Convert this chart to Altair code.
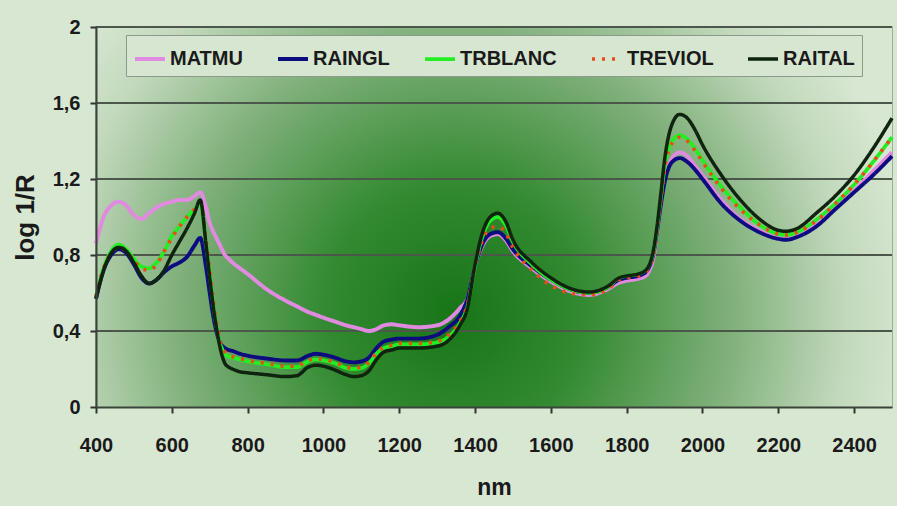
import altair as alt
import pandas as pd

# ---------------- data ----------------
nm = [400, 420, 440, 460, 480, 500, 520, 540, 560, 580, 600, 620, 640, 660, 675,
      690, 700, 710, 720, 730, 740, 750, 760, 780, 800, 850, 900, 930, 960, 980,
      1000, 1030, 1060, 1080, 1100, 1120, 1140, 1160, 1180, 1200, 1250, 1300, 1330,
      1360, 1380, 1400, 1420, 1440, 1460, 1480, 1500, 1550, 1600, 1650, 1700, 1750,
      1780, 1800, 1830, 1850, 1860, 1870, 1880, 1890, 1900, 1920, 1940, 1960, 1980,
      2000, 2050, 2100, 2150, 2200, 2220, 2250, 2300, 2350, 2400, 2450, 2500]

matmu = [0.86, 1.00, 1.06, 1.08, 1.06, 1.01, 0.99, 1.02, 1.05, 1.07, 1.08, 1.09, 1.09, 1.11, 1.13,
         1.05, 0.97, 0.92, 0.88, 0.84, 0.80, 0.78, 0.76, 0.73, 0.70, 0.62, 0.56, 0.53, 0.50, 0.485,
         0.47, 0.45, 0.43, 0.42, 0.41, 0.40, 0.41, 0.43, 0.435, 0.43, 0.42, 0.43, 0.46,
         0.52, 0.57, 0.74, 0.85, 0.90, 0.91, 0.88, 0.82, 0.73, 0.66, 0.61, 0.59, 0.62,
         0.655, 0.665, 0.675, 0.69, 0.72, 0.78, 0.91, 1.06, 1.19, 1.31, 1.34, 1.32, 1.27,
         1.22, 1.09, 0.99, 0.93, 0.89, 0.885, 0.90, 0.96, 1.05, 1.14, 1.24, 1.34]

raingl = [0.57, 0.72, 0.80, 0.83, 0.81, 0.75, 0.68, 0.65, 0.67, 0.71, 0.74, 0.76, 0.79, 0.85, 0.89,
          0.74, 0.60, 0.47, 0.38, 0.33, 0.31, 0.30, 0.295, 0.28, 0.27, 0.255, 0.245, 0.245, 0.27, 0.28,
          0.275, 0.26, 0.24, 0.235, 0.24, 0.26, 0.31, 0.345, 0.355, 0.36, 0.36, 0.38, 0.42,
          0.48, 0.57, 0.74, 0.86, 0.91, 0.92, 0.89, 0.83, 0.74, 0.67, 0.62, 0.60, 0.63,
          0.67, 0.68, 0.69, 0.71, 0.74, 0.80, 0.92, 1.06, 1.18, 1.29, 1.31, 1.29, 1.25,
          1.20, 1.07, 0.98, 0.92, 0.885, 0.88, 0.895, 0.95, 1.04, 1.13, 1.22, 1.32]

trblanc = [0.58, 0.73, 0.82, 0.855, 0.83, 0.78, 0.74, 0.73, 0.76, 0.82, 0.90, 0.95, 1.00, 1.04, 1.07,
           0.86, 0.70, 0.53, 0.40, 0.32, 0.28, 0.265, 0.26, 0.25, 0.24, 0.225, 0.21, 0.21, 0.24, 0.25,
           0.245, 0.23, 0.205, 0.20, 0.205, 0.23, 0.28, 0.31, 0.32, 0.33, 0.33, 0.34, 0.37,
           0.44, 0.53, 0.74, 0.90, 0.98, 1.00, 0.96, 0.87, 0.75, 0.67, 0.62, 0.60, 0.63,
           0.68, 0.69, 0.70, 0.72, 0.75, 0.81, 0.94, 1.10, 1.26, 1.40, 1.43, 1.41, 1.36,
           1.30, 1.16, 1.05, 0.96, 0.91, 0.905, 0.92, 0.985, 1.07, 1.17, 1.29, 1.42]

treviol = [0.58, 0.73, 0.81, 0.84, 0.82, 0.77, 0.73, 0.72, 0.75, 0.82, 0.89, 0.95, 1.00, 1.04, 1.07,
           0.88, 0.72, 0.55, 0.42, 0.33, 0.29, 0.27, 0.265, 0.255, 0.245, 0.23, 0.215, 0.215, 0.245, 0.255,
           0.25, 0.235, 0.21, 0.205, 0.21, 0.235, 0.285, 0.315, 0.325, 0.335, 0.335, 0.345, 0.38,
           0.45, 0.54, 0.74, 0.88, 0.94, 0.95, 0.92, 0.84, 0.72, 0.64, 0.60, 0.59, 0.62,
           0.67, 0.68, 0.69, 0.71, 0.74, 0.80, 0.93, 1.09, 1.25, 1.39, 1.42, 1.40, 1.35,
           1.29, 1.15, 1.04, 0.96, 0.91, 0.905, 0.92, 0.98, 1.07, 1.17, 1.29, 1.42]

raital = [0.57, 0.72, 0.81, 0.84, 0.82, 0.76, 0.69, 0.65, 0.67, 0.72, 0.80, 0.87, 0.94, 1.02, 1.09,
          0.86, 0.68, 0.52, 0.39, 0.29, 0.23, 0.21, 0.20, 0.185, 0.18, 0.17, 0.16, 0.165, 0.21, 0.22,
          0.215, 0.195, 0.17, 0.16, 0.165, 0.19, 0.25, 0.29, 0.30, 0.31, 0.31, 0.32, 0.35,
          0.43, 0.52, 0.75, 0.92, 1.00, 1.02, 0.98, 0.88, 0.76, 0.68, 0.625, 0.605, 0.635,
          0.68, 0.69, 0.70, 0.72, 0.75, 0.82, 0.95, 1.12, 1.30, 1.49, 1.54, 1.52, 1.46,
          1.38, 1.22, 1.09, 0.99, 0.93, 0.925, 0.94, 1.02, 1.11, 1.22, 1.36, 1.52]

series_names = ["MATMU", "RAINGL", "TRBLANC", "TREVIOL", "RAITAL"]
series_values = [matmu, raingl, trblanc, treviol, raital]
series_colors = ["#e08ae0", "#0c0c80", "#22ee22", "#f04818", "#0e240e"]
series_dash = [[1, 0], [1, 0], [1, 0], [3, 7], [1, 0]]
series_width = [4, 3.5, 3, 3.5, 2.2]

x_ticks = [400, 600, 800, 1000, 1200, 1400, 1600, 1800, 2000, 2200, 2400]
y_ticks = [0, 0.4, 0.8, 1.2, 1.6, 2]
grid_vals = [0.4, 0.8, 1.2, 1.6, 2]

rows = []
for name, vals in zip(series_names, series_values):
    for w, v in zip(nm, vals):
        rows.append({"nm": w, "v": v, "serie": name})
df = pd.DataFrame(rows)

FONT = "Liberation Sans, Arial, sans-serif"
W, H = 796, 380

xscale = alt.Scale(domain=[400, 2500], nice=False, zero=False)
yscale = alt.Scale(domain=[0, 2], nice=False)

xaxis = alt.Axis(
    values=x_ticks, format="d", title="nm", grid=False, zindex=1, labelFlush=False,
    labelFont=FONT, labelFontSize=20, labelFontWeight="bold", labelColor="#1a1a1a",
    labelPadding=22, tickSize=6, tickColor="#333", tickWidth=2,
    domainColor="#3a443a", domainWidth=2,
    titleFont=FONT, titleFontSize=23, titleFontWeight="bold", titleColor="#1a1a1a",
    titlePadding=21)

yaxis = alt.Axis(
    values=y_ticks, title="log 1/R", grid=False, zindex=1, labelFlush=False,
    labelExpr="replace(format(datum.value, '.1~f'), '.', ',')",
    labelFont=FONT, labelFontSize=20, labelFontWeight="bold", labelColor="#1a1a1a",
    labelPadding=10, tickSize=6, tickColor="#333", tickWidth=2,
    domainColor="#3a443a", domainWidth=2,
    titleFont=FONT, titleFontSize=26, titleFontWeight="bold", titleColor="#1a1a1a",
    titlePadding=14)

bg = alt.Chart(pd.DataFrame({"k": [0]})).mark_rect(
    color=alt.RadialGradient(
        gradient="radial", x1=0.45, y1=0.62, r1=0, x2=0.45, y2=0.62, r2=0.58,
        stops=[alt.GradientStop(color="#177517", offset=0),
               alt.GradientStop(color="#338a31", offset=0.28),
               alt.GradientStop(color="#80b07b", offset=0.6),
               alt.GradientStop(color="#c2d9bc", offset=0.85),
               alt.GradientStop(color="#d8e7d2", offset=1)])
).encode(x=alt.value(0), x2=alt.value("width"), y=alt.value(0), y2=alt.value("height"))

grid = alt.Chart(pd.DataFrame({"g": grid_vals})).mark_rule(
    color="#4a574a", strokeWidth=2
).encode(y=alt.Y("g:Q", scale=yscale, axis=yaxis))

leg = alt.Legend(
    title=None, orient="none", legendX=30, legendY=8, direction="horizontal",
    symbolType="stroke", symbolSize=900, symbolStrokeWidth=3.5,
    labelFont=FONT, labelFontSize=20, labelFontWeight="bold", labelColor="#1a1a1a",
    labelOffset=3, columnPadding=27, padding=7, fillColor="#d6e6d0",
    strokeColor="#8c9a8c", labelLimit=0)

lines = alt.Chart(df).mark_line(interpolate="monotone").encode(
    x=alt.X("nm:Q", scale=xscale, axis=xaxis),
    y=alt.Y("v:Q", scale=yscale, axis=yaxis),
    color=alt.Color("serie:N", scale=alt.Scale(domain=series_names, range=series_colors),
                    sort=series_names, legend=leg),
    strokeDash=alt.StrokeDash("serie:N", scale=alt.Scale(domain=series_names, range=series_dash),
                              sort=series_names, legend=leg),
    strokeWidth=alt.StrokeWidth("serie:N", scale=alt.Scale(domain=series_names, range=series_width),
                                legend=None),
)

chart = alt.layer(bg, grid, lines).properties(
    width=W, height=H,
    autosize=alt.AutoSizeParams(type="none"),
    padding={"left": 96, "top": 27, "right": 5, "bottom": 99},
    background="#d8e7d2",
).configure_view(stroke="#8a9a8a", strokeWidth=1.5)

chart.save("out.html", embed_options={"renderer": "svg", "actions": False})
